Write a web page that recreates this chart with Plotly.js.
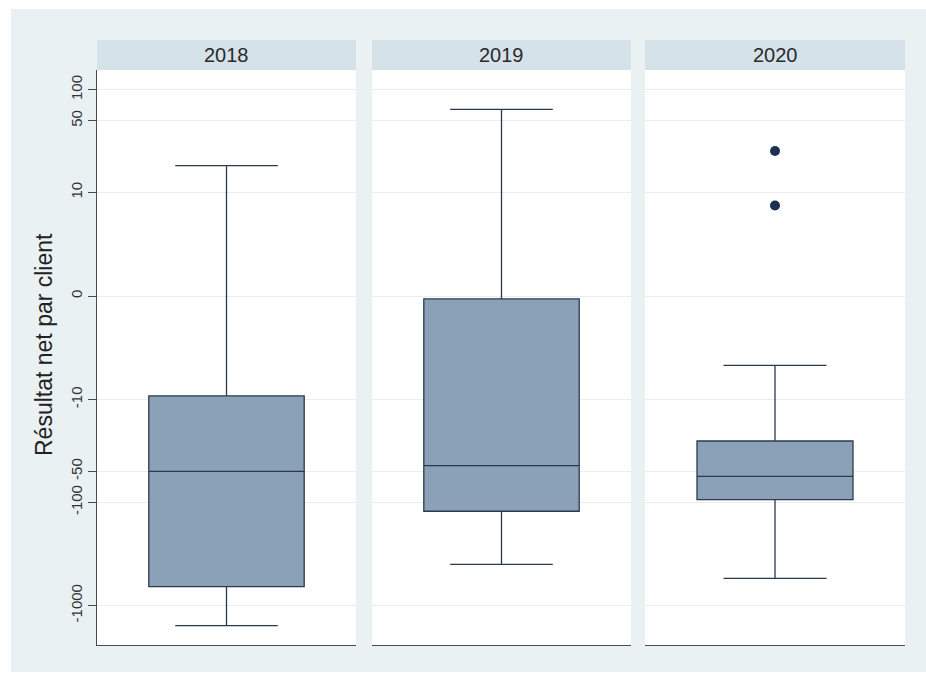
<!DOCTYPE html>
<html>
<head>
<meta charset="utf-8">
<script src="https://cdn.plot.ly/plotly-3.0.1.min.js"></script>
<style>html,body{margin:0;padding:0;background:#fff;}#chart{width:926px;height:674px;}</style>
</head>
<body>
<div id="chart"></div>
<script>
// ---- data (values in original units) ----
const years = ['2018', '2019', '2020'];
const lowerWhisker = [-1570, -399, -545];
const q1 = [-657, -122, -94];
const median = [-50, -44, -56];
const q3 = [-9.2, -0.13, -25.4];
const upperWhisker = [18.3, 64.5, -4.5];
const outliers2020 = [25.4, 7.4];
const tickValues = [100, 50, 10, 0, -10, -50, -100, -1000];
const tickLabels = ['100', '50', '10', '0', '-10', '-50', '-100', '-1000'];
const yTitle = 'Résultat net par client';

// inverse hyperbolic sine scale (symmetric log-like)
const tr = v => Math.asinh(v / 2);

// ---- layout geometry ----
const W = 926, H = 674;
const L = 97, R = 905, T = 70, B = 645;
const pw = R - L, ph = B - T;
const px = p => (p - L) / pw;
const py = p => (B - p) / ph;
const panels = [[97, 356], [372, 631], [645, 905]];
const axNames = ['x', 'x2', 'x3'];

const FONT = 'Liberation Sans, Arial, Helvetica, sans-serif';
const boxFill = '#8aa1b7';
const lineCol = '#2b3a4c';

const traces = years.map((yr, i) => ({
  type: 'box',
  name: yr,
  x: [yr],
  q1: [tr(q1[i])],
  median: [tr(median[i])],
  q3: [tr(q3[i])],
  lowerfence: [tr(lowerWhisker[i])],
  upperfence: [tr(upperWhisker[i])],
  xaxis: axNames[i],
  yaxis: 'y',
  width: 0.6,
  whiskerwidth: 0.66,
  fillcolor: boxFill,
  line: {color: lineCol, width: 1.3},
  boxpoints: false,
  hoverinfo: 'skip',
  showlegend: false
}));

traces.push({
  type: 'scatter',
  mode: 'markers',
  x: outliers2020.map(() => years[2]),
  y: outliers2020.map(tr),
  xaxis: 'x3',
  yaxis: 'y',
  marker: {color: '#1c3150', size: 10},
  hoverinfo: 'skip',
  showlegend: false
});

const xBase = {
  type: 'category',
  range: [-0.5, 0.5],
  showticklabels: false,
  ticks: '',
  showgrid: false,
  zeroline: false,
  showline: true,
  linecolor: '#4a4a4a',
  linewidth: 1.2,
  anchor: 'y',
  fixedrange: true
};

const layout = {
  width: W, height: H,
  margin: {l: L, r: W - R, t: T, b: H - B, pad: 0},
  paper_bgcolor: '#eaf1f3',
  plot_bgcolor: '#ffffff',
  font: {family: FONT, color: '#333'},
  showlegend: false,
  xaxis: Object.assign({}, xBase, {domain: [px(panels[0][0]), px(panels[0][1])]}),
  xaxis2: Object.assign({}, xBase, {domain: [px(panels[1][0]), px(panels[1][1])]}),
  xaxis3: Object.assign({}, xBase, {domain: [px(panels[2][0]), px(panels[2][1])]}),
  yaxis: {
    domain: [0, 1],
    anchor: 'x',
    range: [-7.79, 5.045],
    tickmode: 'array',
    tickvals: tickValues.map(tr),
    ticktext: tickLabels,
    tickangle: -90,
    ticks: 'outside',
    ticklen: 8,
    tickcolor: '#4a4a4a',
    tickfont: {family: FONT, size: 15, color: '#333'},
    showline: true,
    linecolor: '#4a4a4a',
    linewidth: 1.2,
    showgrid: true,
    gridcolor: '#ececec',
    gridwidth: 1,
    zeroline: false,
    fixedrange: true
  },
  shapes: [
    // white border of the picture (left, top, bottom)
    {type: 'rect', xref: 'paper', yref: 'paper', x0: px(0), x1: px(11), y0: py(H), y1: py(0), fillcolor: '#ffffff', line: {width: 0}, layer: 'below'},
    {type: 'rect', xref: 'paper', yref: 'paper', x0: px(0), x1: px(W), y0: py(9), y1: py(0), fillcolor: '#ffffff', line: {width: 0}, layer: 'below'},
    {type: 'rect', xref: 'paper', yref: 'paper', x0: px(0), x1: px(W), y0: py(H), y1: py(672), fillcolor: '#ffffff', line: {width: 0}, layer: 'below'}
  ].concat(panels.map(p => ({
    type: 'rect', xref: 'paper', yref: 'paper',
    x0: px(p[0]), x1: px(p[1]), y0: py(70), y1: py(40),
    fillcolor: '#d6e2ea', line: {width: 0}, layer: 'below'
  }))),
  annotations: panels.map((p, i) => ({
    xref: 'paper', yref: 'paper',
    x: px((p[0] + p[1]) / 2), y: py(55),
    xanchor: 'center', yanchor: 'middle',
    text: years[i], showarrow: false,
    font: {family: FONT, size: 20, color: '#2a2a2a'}
  })).concat([{
    // y-axis title
    xref: 'paper', yref: 'paper',
    x: px(44), y: py(345),
    xanchor: 'center', yanchor: 'middle',
    textangle: -90,
    text: yTitle, showarrow: false,
    font: {family: FONT, size: 23, color: '#222'}
  }])
};

Plotly.newPlot('chart', traces, layout, {staticPlot: true, displayModeBar: false});
</script>
</body>
</html>
